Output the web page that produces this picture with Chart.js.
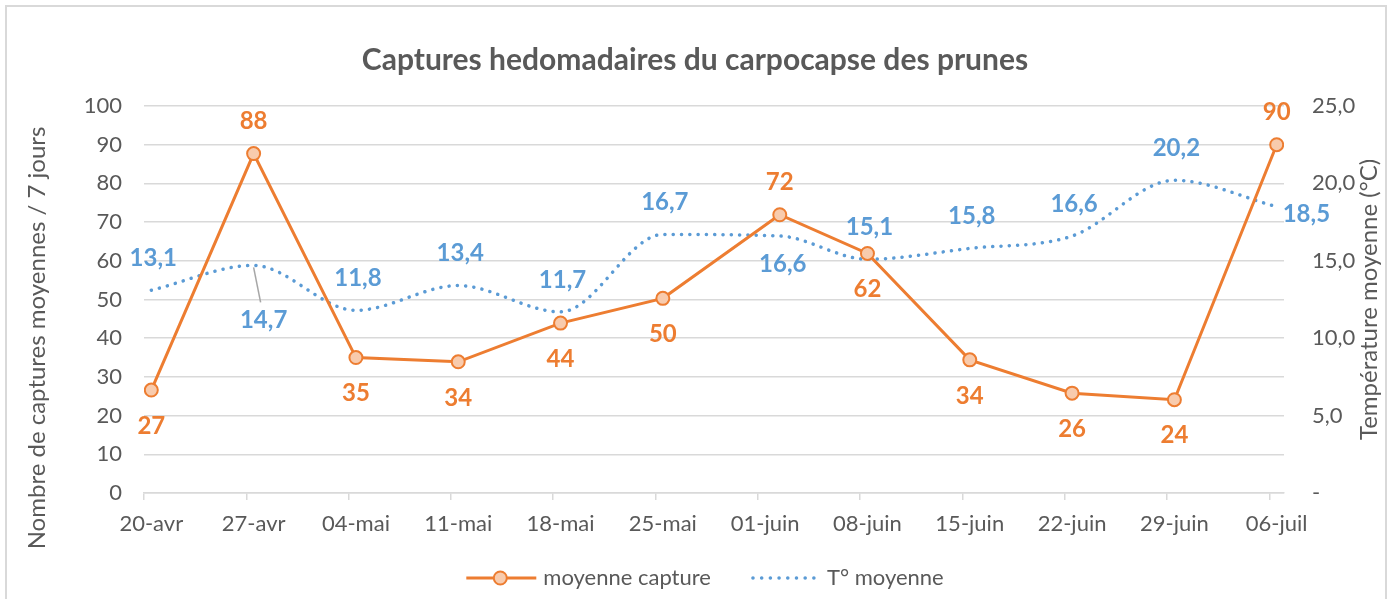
<!DOCTYPE html>
<html lang="fr">
<head>
<meta charset="utf-8">
<title>Captures hedomadaires du carpocapse des prunes</title>
<script src="https://cdn.jsdelivr.net/npm/chart.js@4.4.1/dist/chart.umd.min.js"></script>
<style>
  html, body { margin: 0; padding: 0; background: #fff; }
  #wrap { width: 1392px; height: 599px; }
</style>
</head>
<body>
<div id="wrap"><canvas id="chart" width="1392" height="599"></canvas></div>
<script>
// dates des relevés (jour du relevé)
const dates = ['2020-04-20', '2020-04-27', '2020-05-04', '2020-05-11', '2020-05-18', '2020-05-25',
               '2020-06-02', '2020-06-08', '2020-06-15', '2020-06-22', '2020-06-29', '2020-07-06'];
const captures = [26.6, 87.7, 35.0, 33.9, 43.9, 50.3, 71.9, 61.9, 34.4, 25.8, 24.1, 90.0];
const temperatures = [13.1, 14.7, 11.8, 13.4, 11.7, 16.7, 16.6, 15.1, 15.8, 16.6, 20.2, 18.5];

// graduations de l'axe des dates
const tickDates = ['2020-04-20', '2020-04-27', '2020-05-04', '2020-05-11', '2020-05-18', '2020-05-25',
                   '2020-06-01', '2020-06-08', '2020-06-15', '2020-06-22', '2020-06-29', '2020-07-06'];
const tickLabels = ['20-avr', '27-avr', '04-mai', '11-mai', '18-mai', '25-mai',
                    '01-juin', '08-juin', '15-juin', '22-juin', '29-juin', '06-juil'];

// position des étiquettes de données
const captureLabelPos = ['below', 'above', 'below', 'below', 'below', 'below',
                         'above', 'below', 'below', 'below', 'below', 'above'];
const tempLabelPos = ['above', 'leader', 'above', 'above', 'above', 'above',
                      'below', 'above', 'above', 'above', 'above', 'right'];

const title = 'Captures hedomadaires du carpocapse des prunes';
const leftTitle = 'Nombre de captures moyennes / 7 jours';
const rightTitle = 'Température moyenne (°C)';

const ORANGE = '#ED7D31';
const ORANGE_FILL = '#F8CBAD';
const BLUE = '#5B9BD5';
const TEXT = '#595959';
const GRID = '#D9D9D9';
const FONT = 'Lato';

const day0 = Date.parse(tickDates[0]);
function dayOf(s) {
  return Math.round((Date.parse(s) - day0) / 86400000);
}
const tickDays = tickDates.map(dayOf);

// les points sont placés au milieu du jour
const captureData = dates.map((d, i) => ({ x: dayOf(d) + 0.5, y: captures[i] }));
const tempData = dates.map((d, i) => ({ x: dayOf(d) + 0.5, y: temperatures[i] }));

function fmtTemp(v) {
  return v.toFixed(1).replace('.', ',');
}

const decor = {
  id: 'decor',
  afterDraw(chart) {
    const c = chart.ctx;
    const area = chart.chartArea;
    const W = chart.width;
    c.save();

    // cadre
    c.strokeStyle = GRID;
    c.lineWidth = 2;
    c.strokeRect(6, 6, W - 12, 640);

    // titre
    c.fillStyle = TEXT;
    c.textAlign = 'center';
    c.textBaseline = 'middle';
    c.font = 'bold 30px ' + FONT;
    c.fillText(title, W / 2 - 1, 60);

    // titres des axes
    c.font = '24px ' + FONT;
    c.save();
    c.translate(37, 338);
    c.rotate(-Math.PI / 2);
    c.fillText(leftTitle, 0, 0);
    c.restore();
    c.save();
    c.translate(1369, (area.top + area.bottom) / 2);
    c.rotate(-Math.PI / 2);
    c.fillText(rightTitle, 0, 0);
    c.restore();

    // étiquettes de données
    c.font = 'bold 24px ' + FONT;
    const capMeta = chart.getDatasetMeta(0);
    c.fillStyle = ORANGE;
    capMeta.data.forEach((pt, i) => {
      const txt = String(Math.round(captures[i]));
      const dy = captureLabelPos[i] === 'above' ? -32 : 36;
      c.fillText(txt, pt.x, pt.y + dy);
    });

    const tMeta = chart.getDatasetMeta(1);
    c.fillStyle = BLUE;
    tMeta.data.forEach((pt, i) => {
      const txt = fmtTemp(temperatures[i]);
      const pos = tempLabelPos[i];
      if (pos === 'above') {
        c.fillText(txt, pt.x + 2, pt.y - 32);
      } else if (pos === 'below') {
        c.fillText(txt, pt.x + 3, pt.y + 28);
      } else if (pos === 'right') {
        c.textAlign = 'left';
        c.fillText(txt, pt.x + 6, pt.y + 8);
        c.textAlign = 'center';
      } else if (pos === 'leader') {
        c.fillText(txt, pt.x + 10, pt.y + 55);
        c.strokeStyle = '#A6A6A6';
        c.lineWidth = 1.5;
        c.beginPath();
        c.moveTo(pt.x, pt.y + 2);
        c.lineTo(pt.x + 7, pt.y + 37);
        c.stroke();
      }
    });

    // légende
    c.font = '22px ' + FONT;
    c.textAlign = 'left';
    const ly = 578;
    const t1 = chart.data.datasets[0].label;
    const t2 = chart.data.datasets[1].label;
    const w1 = c.measureText(t1).width;
    const w2 = c.measureText(t2).width;
    const total = 70 + 7 + w1 + 40 + 70 + 6 + w2;
    let lx = 705 - total / 2;
    c.strokeStyle = ORANGE;
    c.lineWidth = 3;
    c.beginPath();
    c.moveTo(lx, ly);
    c.lineTo(lx + 70, ly);
    c.stroke();
    c.beginPath();
    c.arc(lx + 34, ly, 6.5, 0, Math.PI * 2);
    c.fillStyle = ORANGE_FILL;
    c.fill();
    c.lineWidth = 2;
    c.stroke();
    lx += 77;
    c.fillStyle = TEXT;
    c.fillText(t1, lx, ly);
    lx += w1 + 40;
    c.strokeStyle = BLUE;
    c.lineWidth = 3.5;
    c.lineCap = 'round';
    c.setLineDash([0.1, 8.6]);
    c.beginPath();
    c.moveTo(lx + 2, ly);
    c.lineTo(lx + 70, ly);
    c.stroke();
    c.setLineDash([]);
    lx += 76;
    c.fillStyle = TEXT;
    c.fillText(t2, lx, ly);

    c.restore();
  }
};

const ctx = document.getElementById('chart').getContext('2d');
new Chart(ctx, {
  type: 'line',
  data: {
    datasets: [
      {
        label: 'moyenne capture',
        data: captureData,
        yAxisID: 'y',
        borderColor: ORANGE,
        borderWidth: 3,
        pointBackgroundColor: ORANGE_FILL,
        pointBorderColor: ORANGE,
        pointBorderWidth: 2,
        pointRadius: 6.5,
        tension: 0,
        order: 1
      },
      {
        label: 'T° moyenne',
        data: tempData,
        yAxisID: 'y1',
        borderColor: BLUE,
        borderWidth: 3.5,
        borderDash: [0.1, 8.2],
        borderCapStyle: 'round',
        pointRadius: 0,
        cubicInterpolationMode: 'monotone',
        order: 2
      }
    ]
  },
  options: {
    responsive: false,
    animation: false,
    devicePixelRatio: 1,
    layout: { padding: { top: 106, left: 0, right: 0, bottom: 0 } },
    plugins: {
      legend: { display: false },
      tooltip: { enabled: false },
      title: { display: false }
    },
    scales: {
      x: {
        type: 'linear',
        min: 0,
        max: 78,
        afterBuildTicks: (scale) => {
          scale.ticks = tickDays.map(v => ({ value: v }));
        },
        afterFit: (scale) => { scale.height = 106; },
        ticks: {
          callback: (v) => tickLabels[tickDays.indexOf(v)],
          labelOffset: 7.3,
          maxRotation: 0,
          autoSkip: false,
          padding: 11,
          color: TEXT,
          font: { family: FONT, size: 22 }
        },
        grid: {
          drawOnChartArea: false,
          drawTicks: true,
          tickLength: 7,
          color: GRID,
          lineWidth: 1.5
        },
        border: { display: true, color: GRID, width: 1.5 }
      },
      y: {
        position: 'left',
        min: 0,
        max: 100,
        afterFit: (scale) => { scale.width = 144; },
        ticks: {
          stepSize: 10,
          padding: 22,
          color: TEXT,
          font: { family: FONT, size: 22 }
        },
        grid: { color: GRID, lineWidth: 1.5, drawTicks: false },
        border: { display: false }
      },
      y1: {
        position: 'right',
        min: 0,
        max: 25,
        afterFit: (scale) => { scale.width = 108; },
        ticks: {
          stepSize: 5,
          padding: 28,
          color: TEXT,
          font: { family: FONT, size: 22 },
          callback: (v) => v === 0 ? '-' : fmtTemp(v)
        },
        grid: { display: false, drawTicks: false },
        border: { display: false }
      }
    }
  },
  plugins: [decor]
});
</script>
</body>
</html>
